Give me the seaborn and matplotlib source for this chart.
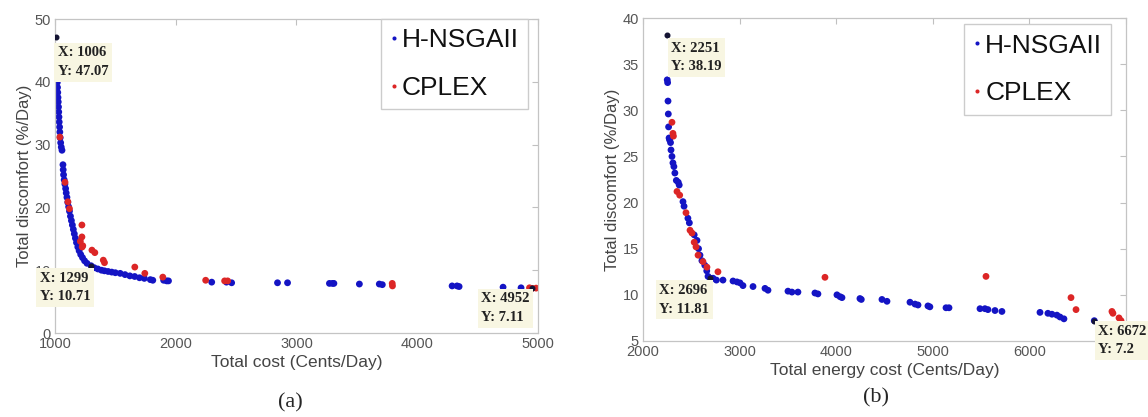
import matplotlib
matplotlib.use("Agg")
import matplotlib.pyplot as plt
import pandas as pd
import seaborn as sns

# ---------- data ----------
# panel (a): total cost vs total discomfort
a_hnsga_x = [1010, 1011, 1012, 1013, 1015, 1016, 1018, 1019, 1021, 1023, 1025, 1027,
             1029, 1031, 1033, 1035, 1038, 1040, 1043, 1047, 1052, 1058,
             1066, 1068, 1071, 1076, 1082, 1088, 1093, 1099, 1106, 1113, 1120, 1128,
             1136, 1144, 1152, 1160, 1169, 1178, 1189, 1200, 1213, 1228, 1245, 1265,
             1299, 1325, 1355, 1385, 1410, 1440, 1470, 1500, 1540, 1580, 1620, 1660,
             1700, 1740, 1790, 1810, 1900, 1925, 1940, 2298, 2420, 2463, 2843, 2926,
             3273, 3298, 3310, 3521, 3686, 3711, 4289, 4330, 4347, 4711, 4860]
a_hnsga_y = [44.9, 44.3, 43.6, 42.9, 42.1, 41.4, 40.6, 39.9, 39.1, 38.3, 37.5, 36.8,
             36.0, 35.2, 34.4, 33.6, 32.8, 32.0, 31.1, 30.3, 29.6, 29.1,
             26.8, 26.0, 25.2, 24.4, 23.7, 23.0, 22.3, 21.6, 20.8, 20.1, 19.4, 18.6,
             17.9, 17.2, 16.5, 15.8, 15.1, 14.4, 13.7, 13.1, 12.5, 12.0, 11.5, 11.1,
             10.71, 10.4, 10.2, 10.0, 9.9, 9.8, 9.7, 9.6, 9.5, 9.3, 9.1, 9.0,
             8.8, 8.7, 8.5, 8.4, 8.4, 8.3, 8.3, 8.1, 8.1, 8.0, 8.0, 8.0,
             7.9, 7.9, 7.9, 7.8, 7.8, 7.7, 7.5, 7.5, 7.4, 7.3, 7.2]
a_cplex_x = [1040, 1083, 1107, 1120, 1210, 1223, 1223, 1225, 1230, 1306, 1330, 1400,
             1410, 1661, 1744, 1893, 2248, 2405, 2430, 3793, 3795, 4930, 4952, 4985]
a_cplex_y = [31.2, 24.0, 20.9, 19.8, 14.6, 17.2, 15.3, 13.7, 13.9, 13.2, 12.8, 11.6,
             11.2, 10.5, 9.5, 8.9, 8.4, 8.3, 8.3, 7.9, 7.5, 7.2, 7.11, 7.15]
a_tip_x = [1006, 1299, 4952]
a_tip_y = [47.07, 10.71, 7.11]

# panel (b): total energy cost vs total discomfort
b_hnsga_x = [2251, 2255, 2259, 2262, 2265, 2270, 2275, 2285, 2290, 2300, 2310, 2320,
             2330, 2345, 2365, 2375, 2414, 2425, 2465, 2480, 2530, 2559, 2575, 2590,
             2610, 2640, 2660, 2673, 2696, 2725, 2760, 2828, 2932, 2973, 3004, 3035,
             3139, 3263, 3294, 3501, 3542, 3604, 3780, 3811, 4008, 4040, 4060, 4246,
             4260, 4474, 4526, 4764, 4816, 4847, 4950, 4970, 5137, 5168, 5489, 5540,
             5571, 5644, 5716, 6110, 6192, 6234, 6285, 6317, 6358, 6672]
b_hnsga_y = [33.3, 33.0, 31.0, 29.6, 28.2, 27.0, 26.8, 26.5, 25.7, 25.0, 24.3, 23.9,
             23.2, 22.4, 22.2, 21.9, 20.1, 19.6, 18.3, 17.8, 16.5, 15.9, 15.0, 14.3,
             13.7, 13.2, 12.6, 12.0, 11.81, 11.8, 11.6, 11.6, 11.5, 11.4, 11.3, 11.0,
             10.9, 10.7, 10.5, 10.4, 10.3, 10.3, 10.2, 10.1, 10.0, 9.8, 9.7, 9.6,
             9.5, 9.5, 9.3, 9.2, 9.0, 8.9, 8.8, 8.7, 8.6, 8.6, 8.5, 8.5,
             8.4, 8.3, 8.2, 8.1, 8.0, 7.9, 7.8, 7.6, 7.4, 7.2]
b_cplex_x = [2300, 2310, 2315, 2352, 2380, 2445, 2487, 2507, 2530, 2549, 2570, 2621,
             2662, 2776, 3884, 5551, 6431, 6483, 6855, 6865, 6928, 6949]
b_cplex_y = [28.7, 27.5, 27.2, 21.2, 20.8, 18.9, 17.0, 16.7, 15.7, 15.2, 14.3, 13.6,
             13.0, 12.5, 11.9, 12.0, 9.7, 8.4, 8.2, 8.0, 7.5, 7.2]
b_tip_x = [2251, 2696, 6672]
b_tip_y = [38.19, 11.81, 7.2]

methods = ["H-NSGAII", "CPLEX"]
palette = {"H-NSGAII": "#1414c4", "CPLEX": "#dc2626"}


def frame(hx, hy, cx, cy):
    return pd.concat([
        pd.DataFrame({"cost": hx, "discomfort": hy, "method": methods[0]}),
        pd.DataFrame({"cost": cx, "discomfort": cy, "method": methods[1]}),
    ], ignore_index=True)


sns.set_theme(style="white")
plt.rcParams["font.family"] = ["Liberation Sans", "DejaVu Sans"]

fig = plt.figure(figsize=(11.48, 4.17), dpi=100)
ax_a = fig.add_axes([0.0479, 0.2014, 0.4207, 0.7530])
ax_b = fig.add_axes([0.5601, 0.1823, 0.4207, 0.7745])

tip_font = dict(family=["Liberation Serif", "DejaVu Serif"], fontsize=10.5,
                fontweight="bold", color="#222222", linespacing=1.55)
tip_box = dict(boxstyle="square,pad=0.25", facecolor="#f8f6e2", edgecolor="none")

panels = [
    (ax_a, frame(a_hnsga_x, a_hnsga_y, a_cplex_x, a_cplex_y), a_tip_x, a_tip_y,
     (1000, 5000), (0, 50), range(1000, 5001, 1000), range(0, 51, 10),
     "Total cost (Cents/Day)", [(2, -9), (-51, -6), (-51, -4)], (0.98, 1.0)),
    (ax_b, frame(b_hnsga_x, b_hnsga_y, b_cplex_x, b_cplex_y), b_tip_x, b_tip_y,
     (2000, 7000), (5, 40), range(2000, 7001, 1000), range(5, 41, 5),
     "Total energy cost (Cents/Day)", [(4, -7), (-51, -6), (4, -4)], (0.97, 0.98)),
]

for ax, df, tx, ty, xlim, ylim, xt, yt, xlabel, offsets, leg_anchor in panels:
    sns.scatterplot(data=df, x="cost", y="discomfort", hue="method",
                    hue_order=methods, palette=palette, s=24, linewidth=0,
                    ax=ax, zorder=2)
    ax.scatter(tx, ty, s=11, color="#141433", zorder=3)
    ax.set_xlim(*xlim)
    ax.set_ylim(*ylim)
    xt = list(xt)
    ax.set_xticks(xt)
    # the last datatip of panel (b) hides the 7000 label in the original
    ax.set_xticklabels([str(v) if v < 7000 else "" for v in xt])
    ax.set_yticks(list(yt))
    ax.set_xlabel(xlabel, fontsize=12.5, color="#444444", labelpad=3)
    ax.set_ylabel("Total discomfort (%/Day)", fontsize=12, color="#444444", labelpad=2)
    ax.tick_params(direction="in", length=4, width=0.8, colors="#c0c0c0",
                   labelcolor="#555555", labelsize=10.5, top=True, right=True, pad=3)
    for sp in ax.spines.values():
        sp.set_color("#c4c4c4")
        sp.set_linewidth(0.9)

    handles, labels = ax.get_legend_handles_labels()
    leg = ax.legend(handles, labels, loc="upper right", bbox_to_anchor=leg_anchor,
                    fontsize=19, markerscale=0.6, handlelength=0.3,
                    handletextpad=0.15, labelspacing=0.9, borderpad=0.35,
                    borderaxespad=0, fancybox=False, framealpha=1, edgecolor="#cccccc")
    leg.get_frame().set_linewidth(1.0)
    for t in leg.get_texts():
        t.set_color("#111111")

    for x, y, off in zip(tx, ty, offsets):
        ax.annotate(f"X: {x}\nY: {y}", xy=(x, y), xytext=off,
                    textcoords="offset pixels", ha="left", va="top",
                    bbox=tip_box, annotation_clip=False, zorder=5, **tip_font)

fig.text(0.2526, 0.035, "(a)", ha="center", va="center", fontsize=16,
         family=["Liberation Serif", "DejaVu Serif"])
fig.text(0.7631, 0.045, "(b)", ha="center", va="center", fontsize=16,
         family=["Liberation Serif", "DejaVu Serif"])

fig.savefig("out.png", dpi=100)
